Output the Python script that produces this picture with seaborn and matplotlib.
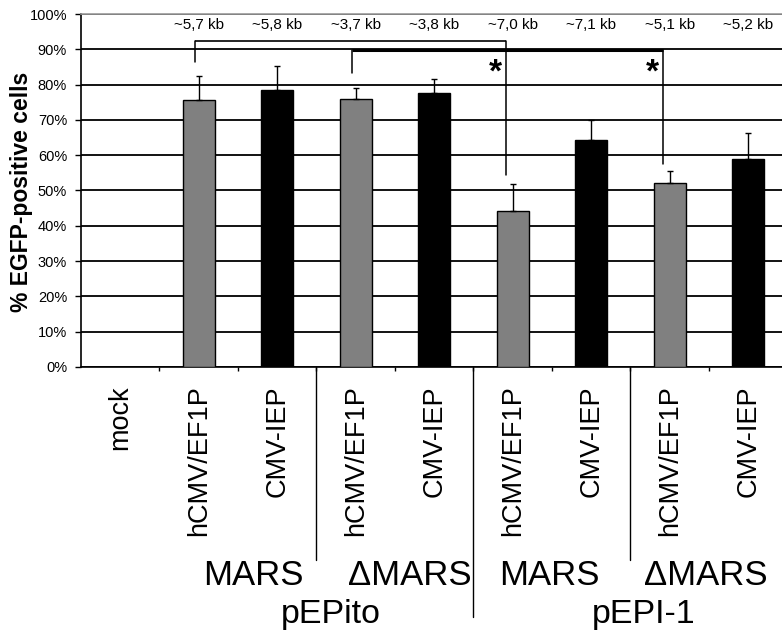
import numpy as np
import pandas as pd
import matplotlib
matplotlib.use("Agg")
import matplotlib.pyplot as plt
import matplotlib.transforms as mtransforms
import seaborn as sns

# data
order = ["mock",
         "pEPito MARS hCMV/EF1P", "pEPito MARS CMV-IEP",
         "pEPito dMARS hCMV/EF1P", "pEPito dMARS CMV-IEP",
         "pEPI-1 MARS hCMV/EF1P", "pEPI-1 MARS CMV-IEP",
         "pEPI-1 dMARS hCMV/EF1P", "pEPI-1 dMARS CMV-IEP"]
tick_labels = ["mock", "hCMV/EF1P", "CMV-IEP", "hCMV/EF1P", "CMV-IEP",
               "hCMV/EF1P", "CMV-IEP", "hCMV/EF1P", "CMV-IEP"]
promoters = ["hCMV/EF1P", "CMV-IEP"] * 4
values = [75.6, 78.6, 76.0, 77.7, 44.1, 64.3, 52.0, 58.8]
errors = [6.8, 6.7, 3.0, 3.8, 7.6, 5.7, 3.4, 7.6]
sizes = ["~5,7 kb", "~5,8 kb", "~3,7 kb", "~3,8 kb",
         "~7,0 kb", "~7,1 kb", "~5,1 kb", "~5,2 kb"]
mars_labels = ["MARS", "\u0394MARS", "MARS", "\u0394MARS"]
vector_labels = ["pEPito", "pEPI-1"]
# significance brackets: (left bar, right bar, top, left leg end, right leg end, width)
brackets = [(1, 5, 92.4, 86.4, 54.4, 1.2),
            (3, 7, 89.8, 83.3, 57.5, 2.2)]

df = pd.DataFrame({"construct": order[1:], "value": values, "promoter": promoters})

sns.set_theme(style="white")
plt.rcParams["font.family"] = ["Liberation Sans", "DejaVu Sans"]
plt.rcParams["text.color"] = "black"
plt.rcParams["xtick.color"] = "black"
plt.rcParams["ytick.color"] = "black"
plt.rcParams["axes.labelcolor"] = "black"

fig = plt.figure(figsize=(7.82, 6.35), dpi=100)
ax = fig.add_axes([81 / 782, 1 - 367 / 635, 701 / 782, 353 / 635])

sns.barplot(data=df, x="construct", y="value", hue="promoter", order=order,
            hue_order=["hCMV/EF1P", "CMV-IEP"],
            palette={"hCMV/EF1P": "#808080", "CMV-IEP": "#000000"},
            dodge=False, width=0.41, edgecolor="black", linewidth=1,
            legend=False, ax=ax, zorder=3)

pos = np.arange(1, len(order))
ax.errorbar(pos, values, yerr=[np.zeros(len(values)), errors], fmt="none",
            ecolor="black", elinewidth=1, capsize=2.5, capthick=1, zorder=4)

ax.set_xlim(-0.5, 8.43)
ax.set_ylim(0, 100)
ax.set_yticks(np.arange(0, 101, 10))
ax.set_yticklabels([f"{v}%" for v in range(0, 101, 10)], fontsize=10.5)
ax.yaxis.grid(True, color="black", lw=1.3)
ax.set_axisbelow(True)
ax.set_xlabel("")
ax.set_ylabel("")

ax.set_xticks(range(len(order)))
ax.set_xticklabels(tick_labels, rotation=90, fontsize=19.5, va="top")
ax.set_xticks(np.arange(0.5, 8, 1), minor=True)
ax.tick_params(axis="x", which="major", length=0, pad=13)
ax.tick_params(axis="x", which="minor", length=3, width=1, direction="out",
               color="black", bottom=True)
ax.tick_params(axis="y", length=4, width=1, direction="out", color="black",
               left=True, pad=6)

for side in ["left", "bottom"]:
    ax.spines[side].set_color("black")
    ax.spines[side].set_linewidth(1.2)
ax.spines["top"].set_color("#9a9a9a")
ax.spines["top"].set_linewidth(1.2)
ax.spines["right"].set_visible(False)

# size annotations
for p, s in zip(pos, sizes):
    ax.text(p, 96.9, s, ha="center", va="center", fontsize=11)

# brackets and stars
for a, b, top, ya, yb, lw in brackets:
    xa, xb = a - 0.05, b - 0.09
    ax.plot([xa, xa], [ya, top], color="black", lw=1.1, zorder=5)
    ax.plot([xb, xb], [top, yb], color="black", lw=1.1, zorder=5)
    ax.plot([xa, xb], [top, top], color="black", lw=lw, zorder=5,
            solid_capstyle="butt")
    ax.text(xb - 0.13, 83.4, "*", ha="center", va="center", fontsize=24,
            fontweight="bold", zorder=6)

# group separators and labels below the axis
trans = mtransforms.blended_transform_factory(ax.transData, ax.transAxes)
for x, y_end in [(2.5, -0.547), (4.5, -0.708), (6.5, -0.547)]:
    ax.plot([x, x], [0.0, y_end], color="black", lw=1, transform=trans,
            clip_on=False)
for x, lab in zip([1.7, 3.69, 5.47, 7.46], mars_labels):
    ax.text(x, -0.59, lab, transform=trans, ha="center", va="center",
            fontsize=25)
for x, lab in zip([2.68, 6.67], vector_labels):
    ax.text(x, -0.70, lab, transform=trans, ha="center", va="center",
            fontsize=24.5)

fig.text(22 / 782, 1 - 192 / 635, "% EGFP-positive cells", rotation=90,
         ha="center", va="center", fontsize=16.5, fontweight="bold")

fig.savefig("out.png", dpi=100)
